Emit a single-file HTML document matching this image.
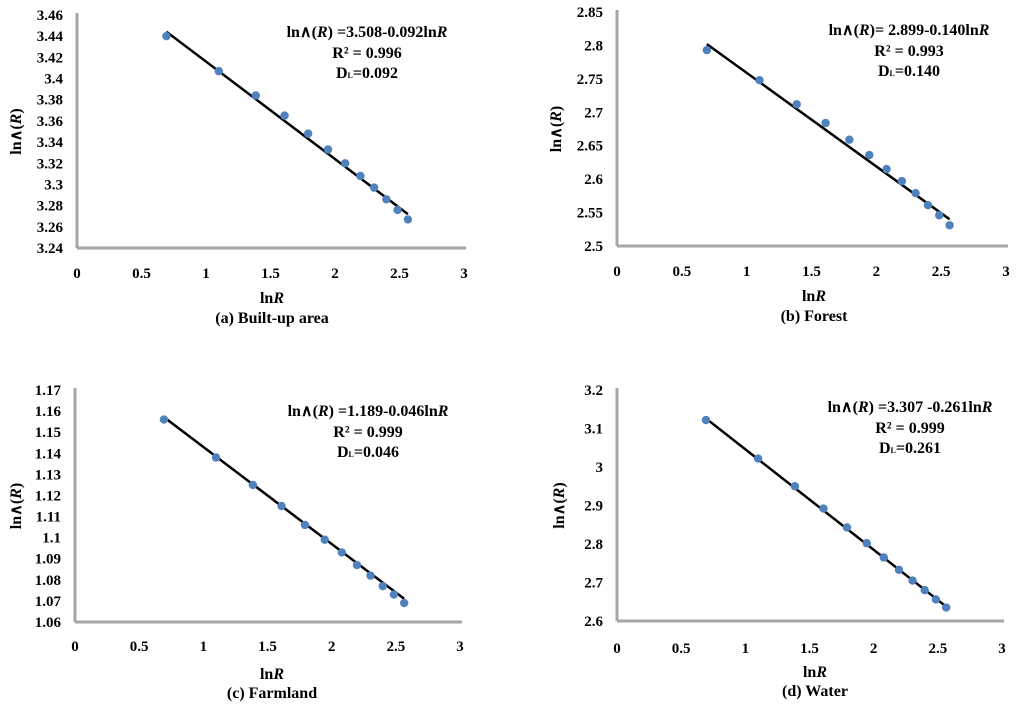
<!DOCTYPE html>
<html><head><meta charset="utf-8"><style>
html,body{margin:0;padding:0;background:#fff;width:1024px;height:709px;overflow:hidden}
svg{display:block;font-family:"Liberation Serif",serif;font-weight:bold}
</style></head><body>
<svg id="fig" width="1024" height="709" viewBox="0 0 1024 709"></svg>
<script>
const xVals = [0.693,1.099,1.386,1.609,1.792,1.946,2.079,2.197,2.303,2.398,2.485,2.565];
const xTicks = [0,0.5,1,1.5,2,2.5,3];
const builtY = [3.440,3.407,3.384,3.365,3.348,3.333,3.320,3.308,3.297,3.286,3.276,3.267];
const forestY = [2.793,2.748,2.712,2.684,2.659,2.636,2.615,2.597,2.579,2.561,2.546,2.531];
const farmY = [1.156,1.138,1.125,1.115,1.106,1.099,1.093,1.087,1.082,1.077,1.073,1.069];
const waterY = [3.122,3.022,2.950,2.892,2.843,2.802,2.765,2.733,2.705,2.680,2.656,2.635];
const builtTicks = [3.24,3.26,3.28,3.3,3.32,3.34,3.36,3.38,3.4,3.42,3.44,3.46];
const forestTicks = [2.5,2.55,2.6,2.65,2.7,2.75,2.8,2.85];
const farmTicks = [1.06,1.07,1.08,1.09,1.1,1.11,1.12,1.13,1.14,1.15,1.16,1.17];
const waterTicks = [2.6,2.7,2.8,2.9,3,3.1,3.2];
const builtFit = [3.508,-0.092];
const forestFit = [2.899,-0.140];
const farmFit = [1.189,-0.046];
const waterFit = [3.307,-0.261];

const NS="http://www.w3.org/2000/svg";
const svg=document.getElementById('fig');
function mk(tag,attrs,parent){const e=document.createElementNS(NS,tag);for(const k in attrs)e.setAttribute(k,attrs[k]);(parent||svg).appendChild(e);return e;}
function txt(s,x,y,anchor,size,parent){const t=mk('text',{x:x,y:y,'text-anchor':anchor,'font-size':size},parent);t.innerHTML=s;return t;}

const panels=[
 {key:'built',ys:builtY,ticks:builtTicks,fit:builtFit,x0:77,x3:464,yT:15,yB:248,eq:'ln∧(<tspan font-style="italic">R</tspan>) =3.508-0.092ln<tspan font-style="italic">R</tspan>',r2:'R² = 0.996',dl:'D<tspan font-size="8">L</tspan>=0.092',ex:367,ey:32,xl:272,xly:303,cap:'(a) Built-up area',capy:323,ylx:16,xty:278},
 {key:'forest',ys:forestY,ticks:forestTicks,fit:forestFit,x0:617,x3:1006,yT:12,yB:246,eq:'ln∧(<tspan font-style="italic">R</tspan>)= 2.899-0.140ln<tspan font-style="italic">R</tspan>',r2:'R² = 0.993',dl:'D<tspan font-size="8">L</tspan>=0.140',ex:909,ey:30,xl:814,xly:301,cap:'(b) Forest',capy:321,ylx:556,xty:276},
 {key:'farm',ys:farmY,ticks:farmTicks,fit:farmFit,x0:75,x3:460,yT:390,yB:622,eq:'ln∧(<tspan font-style="italic">R</tspan>) =1.189-0.046ln<tspan font-style="italic">R</tspan>',r2:'R² = 0.999',dl:'D<tspan font-size="8">L</tspan>=0.046',ex:368,ey:411,xl:272,xly:679,cap:'(c) Farmland',capy:698,ylx:16,xty:651},
 {key:'water',ys:waterY,ticks:waterTicks,fit:waterFit,x0:617,x3:1002,yT:390,yB:621,eq:'ln∧(<tspan font-style="italic">R</tspan>) =3.307 -0.261ln<tspan font-style="italic">R</tspan>',r2:'R² = 0.999',dl:'D<tspan font-size="8">L</tspan>=0.261',ex:910,ey:407,xl:815,xly:677,cap:'(d) Water',capy:696,ylx:559,xty:653}
];

panels.forEach(p=>{
  const g=mk('g',{});
  
  
  const tmin=p.ticks[0],tmax=p.ticks[p.ticks.length-1];
  const sx=v=>p.x0+(p.x3-p.x0)*v/3;
  const sy=v=>p.yB-(p.yB-p.yT)*(v-tmin)/(tmax-tmin);
  const ya=mk('line',{x1:p.x0,y1:p.yT-2,x2:p.x0,y2:p.yB,stroke:'#a6a6a6','stroke-width':3},g);
  
  
  const xa=mk('line',{x1:p.x0,y1:p.yB,x2:p.x3+2,y2:p.yB,stroke:'#a6a6a6','stroke-width':3},g);
  
  
  p.ticks.forEach(t=>{
    const s=String(Math.round(t*1000)/1000);
    const e=txt(s,p.x0-14,sy(t)+5,'end',15,g);
    
    
  });
  xTicks.forEach(t=>{
    const e=txt(String(t),sx(t),p.xty,'middle',15,g);
    
    
  });
  const xa0=xVals[0],xa1=xVals[xVals.length-1];
  const fl=mk('line',{x1:sx(xa0),y1:sy(p.fit[0]+p.fit[1]*xa0),x2:sx(xa1),y2:sy(p.fit[0]+p.fit[1]*xa1),stroke:'#000','stroke-width':2.5},g);
  
  
  xVals.forEach((x,i)=>{
    const c=mk('circle',{cx:sx(x),cy:sy(p.ys[i]),r:4.2,fill:'#4f81bd'},g);
    
    
  });
  let e=txt(p.eq,p.ex,p.ey+5,'middle',16,g);
  
  
  e=txt(p.r2,p.ex,p.ey+26,'middle',16,g);
  
  
  e=txt(p.dl,p.ex,p.ey+46,'middle',16,g);
  
  
  e=txt('ln<tspan font-style="italic">R</tspan>',p.xl,p.xly,'middle',16,g);
  
  
  e=txt(p.cap,p.xl,p.capy,'middle',16,g);
  
  
  const cy=(p.yT+p.yB)/2;
  e=txt('ln∧(<tspan font-style="italic">R</tspan>)',p.ylx,cy,'middle',16,g);
  e.setAttribute('transform','rotate(-90 '+p.ylx+' '+cy+')');
  e.setAttribute('dy','5');
  
  
});
</script>
</body></html>
